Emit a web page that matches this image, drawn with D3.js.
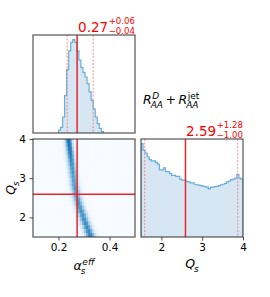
<!DOCTYPE html>
<html>
<head>
<meta charset="utf-8">
<script src="https://cdn.jsdelivr.net/npm/d3@7"></script>
<style>
  body { margin: 0; background: #fff; }
  text { font-family: "DejaVu Sans", sans-serif; }
</style>
</head>
<body>
<div id="chart"></div>
<script>
// marginal of alpha_s^eff: left bin edges and relative heights
var alphaBins = [0.200, 0.208, 0.216, 0.224, 0.232, 0.240, 0.248, 0.256, 0.264, 0.272, 0.280,
  0.288, 0.296, 0.304, 0.312, 0.320, 0.328, 0.336, 0.344, 0.352, 0.360, 0.368];
var alphaCounts = [0.03, 0.06, 0.17, 0.40, 0.68, 0.88, 0.97, 1.00, 0.97, 0.88, 0.78,
  0.70, 0.65, 0.60, 0.53, 0.44, 0.35, 0.26, 0.17, 0.10, 0.05, 0.015];
var alphaBinW = 0.008;
var alphaQuant = [0.234, 0.273, 0.336];

// marginal of Q_s
var qsBins = [1.50, 1.55, 1.60, 1.65, 1.70, 1.75, 1.80, 1.85, 1.90, 1.95,
  2.00, 2.05, 2.10, 2.15, 2.20, 2.25, 2.30, 2.35, 2.40, 2.45,
  2.50, 2.55, 2.60, 2.65, 2.70, 2.75, 2.80, 2.85, 2.90, 2.95,
  3.00, 3.05, 3.10, 3.15, 3.20, 3.25, 3.30, 3.35, 3.40, 3.45,
  3.50, 3.55, 3.60, 3.65, 3.70, 3.75, 3.80, 3.85, 3.90, 3.95];
var qsCounts = [1.00, 0.93, 0.90, 0.86, 0.83, 0.815, 0.815, 0.80, 0.78, 0.72,
  0.72, 0.74, 0.70, 0.70, 0.68, 0.66, 0.66, 0.65, 0.65, 0.62,
  0.61, 0.61, 0.595, 0.59, 0.58, 0.58, 0.565, 0.56, 0.555, 0.55,
  0.545, 0.54, 0.535, 0.515, 0.535, 0.535, 0.54, 0.543, 0.55, 0.56,
  0.565, 0.575, 0.59, 0.60, 0.615, 0.62, 0.63, 0.67, 0.63, 0.62];
var qsBinW = 0.05;
var qsQuant = [1.59, 2.59, 3.87];

// 2d posterior ridge, one row per Q_s bin: centre, spread and peak of alpha
var ridgeQs = [3.95, 3.85, 3.75, 3.65, 3.55, 3.45, 3.35, 3.25, 3.15, 3.05,
  2.95, 2.85, 2.75, 2.65, 2.55, 2.45, 2.35, 2.25, 2.15, 2.05,
  1.95, 1.85, 1.75, 1.65, 1.55];
var ridgeCenter = [0.240, 0.242, 0.244, 0.246, 0.248, 0.250, 0.252, 0.254, 0.256, 0.258,
  0.260, 0.262, 0.265, 0.268, 0.271, 0.275, 0.279, 0.284, 0.289, 0.295,
  0.300, 0.306, 0.312, 0.318, 0.324];
var ridgeWidth = [0.0095, 0.0095, 0.0098, 0.01, 0.01, 0.0102, 0.0105, 0.0105, 0.0108, 0.011,
  0.011, 0.0112, 0.0115, 0.0115, 0.0118, 0.012, 0.012, 0.0122, 0.0125, 0.0125,
  0.0128, 0.013, 0.013, 0.0132, 0.0135];
var ridgePeak = [0.80, 0.79, 0.77, 0.75, 0.72, 0.69, 0.66, 0.63, 0.61, 0.59,
  0.58, 0.58, 0.58, 0.58, 0.59, 0.60, 0.60, 0.61, 0.62, 0.63,
  0.64, 0.65, 0.66, 0.68, 0.70];

var alphaTicks = [0.2, 0.4];
var qsTicks = [2, 3, 4];

var W = 102, H = 98;
var redLine = "#e8262b";
var redText = "#ff0000";
var histFill = "#d6e6f3";
var histLine = "#6aaed8";

var svg = d3.select("#chart").append("svg")
  .attr("width", 270)
  .attr("height", 297);

svg.append("rect").attr("width", 270).attr("height", 297).attr("fill", "#fff");

var defs = svg.append("defs");
defs.append("clipPath").attr("id", "clip")
  .append("rect").attr("width", W).attr("height", H);

var panelA = svg.append("g").attr("transform", "translate(33,35)");
var panelB = svg.append("g").attr("transform", "translate(33,139)");
var panelC = svg.append("g").attr("transform", "translate(141,139)");

var xAlpha = d3.scaleLinear().domain([0.1, 0.5]).range([0, W]);
var yQs = d3.scaleLinear().domain([1.5, 4]).range([H, 0]);
var xQs = d3.scaleLinear().domain([1.5, 4]).range([0, W]);

function drawHist(panel, xs, bins, counts, binW, quant) {
  var ys = d3.scaleLinear().domain([0, d3.max(counts) * 1.05]).range([H, 0]);
  var body = panel.append("g").attr("clip-path", "url(#clip)");
  var last = bins[bins.length - 1] + binW;
  var pts = bins.map(function (b, i) { return [b, counts[i]]; });
  pts.push([last, counts[counts.length - 1]]);

  body.append("path")
    .datum(pts)
    .attr("fill", histFill)
    .attr("d", d3.area().curve(d3.curveStepAfter)
      .x(d => xs(d[0])).y0(H).y1(d => ys(d[1])));

  var outline = [[bins[0], 0]].concat(pts).concat([[last, 0]]);
  body.append("path")
    .datum(outline)
    .attr("fill", "none")
    .attr("stroke", histLine)
    .attr("stroke-width", 1.2)
    .attr("d", d3.line().curve(d3.curveStepAfter)
      .x(d => xs(d[0])).y(d => ys(d[1])));

  [quant[0], quant[2]].forEach(function (q) {
    body.append("line")
      .attr("x1", xs(q)).attr("x2", xs(q))
      .attr("y1", 0).attr("y2", H)
      .attr("stroke", "#f07878")
      .attr("stroke-width", 0.8)
      .attr("stroke-dasharray", "2,1.5");
  });
  body.append("line")
    .attr("x1", xs(quant[1])).attr("x2", xs(quant[1]))
    .attr("y1", 0).attr("y2", H)
    .attr("stroke", redLine)
    .attr("stroke-width", 1.5);
}

function quantTitle(panel, quant) {
  var x = W, y = -3.5;
  var sup = panel.append("text")
    .attr("x", x).attr("y", y - 7.2)
    .attr("text-anchor", "end")
    .style("font-size", "8.6px").attr("fill", redText)
    .text("+" + (quant[2] - quant[1]).toFixed(2));
  var sub = panel.append("text")
    .attr("x", x).attr("y", y + 2.2)
    .attr("text-anchor", "end")
    .style("font-size", "8.6px").attr("fill", redText)
    .text("\u2212" + (quant[1] - quant[0]).toFixed(2));
  var w = Math.max(sup.node().getComputedTextLength(), sub.node().getComputedTextLength());
  panel.append("text")
    .attr("x", x - w - 0.5).attr("y", y)
    .attr("text-anchor", "end")
    .style("font-size", "13.5px").attr("fill", redText)
    .text(quant[1].toFixed(2));
}

// pieces: {base, it, sup, supIt, sub, subIt, after}
function mathText(g, x, y, pieces, anchor) {
  var grp = g.append("g");
  var cx = 0;
  pieces.forEach(function (p) {
    var b = grp.append("text").attr("x", cx).attr("y", 0)
      .style("font-size", "12.5px")
      .style("font-style", p.it ? "italic" : "normal")
      .text(p.base);
    cx += b.node().getComputedTextLength();
    var adv = 0;
    if (p.sup) {
      var s = grp.append("text").attr("x", cx + 0.5).attr("y", -5.5)
        .style("font-size", "9px")
        .style("font-style", p.supIt ? "italic" : "normal")
        .text(p.sup);
      adv = Math.max(adv, s.node().getComputedTextLength() + 0.5);
    }
    if (p.sub) {
      var t = grp.append("text").attr("x", cx - (p.it ? 1 : 0)).attr("y", 3.5)
        .style("font-size", "9px")
        .style("font-style", p.subIt ? "italic" : "normal")
        .text(p.sub);
      adv = Math.max(adv, t.node().getComputedTextLength() - (p.it ? 1 : 0));
    }
    cx += adv;
    cx += p.after || 0;
  });
  var shift = anchor === "middle" ? -cx / 2 : 0;
  grp.attr("transform", "translate(" + (x + shift) + "," + y + ")");
  return grp;
}

// top: alpha marginal
drawHist(panelA, xAlpha, alphaBins, alphaCounts, alphaBinW, alphaQuant);
quantTitle(panelA, alphaQuant);

// right: Q_s marginal
drawHist(panelC, xQs, qsBins, qsCounts, qsBinW, qsQuant);
quantTitle(panelC, qsQuant);

// 2d panel
var alphaGrid = d3.range(50).map(i => 0.1 + i * 0.008);
var cells = [];
ridgeQs.forEach(function (q, i) {
  alphaGrid.forEach(function (a) {
    var z = (a + 0.004 - ridgeCenter[i]) / ridgeWidth[i];
    cells.push({ a: a, q: q, v: ridgePeak[i] * Math.exp(-0.5 * z * z) });
  });
});

var bodyB = panelB.append("g").attr("clip-path", "url(#clip)");
bodyB.selectAll("rect.cell")
  .data(cells)
  .enter()
  .append("rect")
  .attr("class", "cell")
  .attr("x", d => xAlpha(d.a))
  .attr("width", d => xAlpha(d.a + 0.008) - xAlpha(d.a) + 0.3)
  .attr("y", d => yQs(d.q + 0.05))
  .attr("height", d => yQs(d.q - 0.05) - yQs(d.q + 0.05) + 0.3)
  .attr("fill", d => d3.interpolateBlues(d.v));

bodyB.append("line")
  .attr("x1", xAlpha(alphaQuant[1])).attr("x2", xAlpha(alphaQuant[1]))
  .attr("y1", 0).attr("y2", H)
  .attr("stroke", redLine).attr("stroke-width", 1.5);
bodyB.append("line")
  .attr("x1", 0).attr("x2", W)
  .attr("y1", yQs(qsQuant[1])).attr("y2", yQs(qsQuant[1]))
  .attr("stroke", redLine).attr("stroke-width", 1.5);

// axes
function styleAxis(g) {
  g.select(".domain").remove();
  g.selectAll(".tick line").attr("stroke", "#222").attr("stroke-width", 0.8);
  g.selectAll(".tick text").style("font-size", "10.5px").style("font-family", "DejaVu Sans").attr("fill", "#000");
}

panelB.append("g")
  .attr("transform", "translate(0," + H + ")")
  .call(d3.axisBottom(xAlpha).tickValues(alphaTicks).tickFormat(d3.format(".1f"))
    .tickSize(3.5).tickPadding(3.5))
  .call(styleAxis);

panelB.append("g")
  .call(d3.axisLeft(yQs).tickValues(qsTicks).tickFormat(d3.format("d"))
    .tickSize(3.5).tickPadding(3.5))
  .call(styleAxis);

panelC.append("g")
  .attr("transform", "translate(0," + H + ")")
  .call(d3.axisBottom(xQs).tickValues(qsTicks).tickFormat(d3.format("d"))
    .tickSize(3.5).tickPadding(3.5))
  .call(styleAxis);

// frames
[panelA, panelB, panelC].forEach(function (p) {
  p.append("rect")
    .attr("width", W).attr("height", H)
    .attr("fill", "none")
    .attr("stroke", "#333")
    .attr("stroke-width", 1);
});

// axis labels
mathText(svg, 84, 270, [{ base: "\u03b1", it: true, sup: "eff", supIt: true, sub: "s", subIt: true }], "middle");
mathText(svg, 192, 268, [{ base: "Q", it: true, sub: "s", subIt: true }], "middle");
var yLab = svg.append("g").attr("transform", "translate(15,188) rotate(-90)");
mathText(yLab, 0, 0, [{ base: "Q", it: true, sub: "s", subIt: true }], "middle");

// observable label
mathText(svg, 143, 104, [
  { base: "R", it: true, sup: "D", supIt: true, sub: "AA", subIt: true, after: 2.5 },
  { base: "+", after: 2.5 },
  { base: "R", it: true, sup: "jet", supIt: false, sub: "AA", subIt: true }
], "start");
</script>
</body>
</html>
